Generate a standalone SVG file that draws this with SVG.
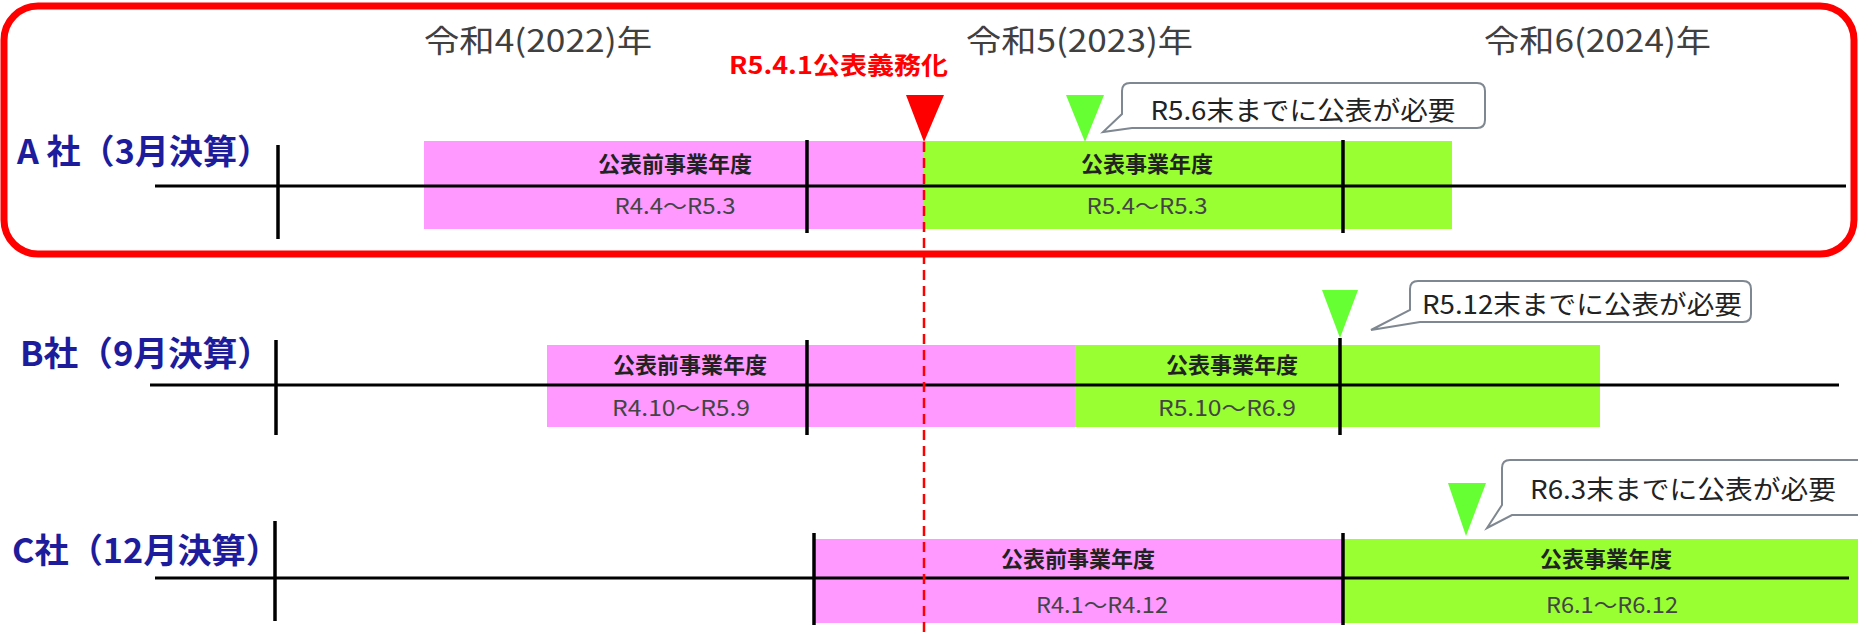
<svg xmlns="http://www.w3.org/2000/svg" width="1858" height="632" viewBox="0 0 1858 632">
<style>
.yr{font-family:"Noto Sans CJK JP","Liberation Sans",sans-serif;font-size:31px;fill:#404040}
.co{font-family:"Noto Sans CJK JP","Liberation Sans",sans-serif;font-size:34px;font-weight:bold;fill:#1c1c9c}
.bt{font-family:"Noto Sans CJK JP","Liberation Sans",sans-serif;font-size:22px;font-weight:bold;fill:#222}
.br{font-family:"Noto Sans CJK JP","Liberation Sans",sans-serif;font-size:22px;fill:#444}
.ct{font-family:"Noto Sans CJK JP","Liberation Sans",sans-serif;font-size:26px;fill:#222}
.pk{fill:#ff99ff}
.gr{fill:#99ff33}
.ax{stroke:#000;stroke-width:3;fill:none}
.tk{stroke:#000;stroke-width:3.5;fill:none}
.call{fill:#fff;stroke:#7f8790;stroke-width:2}
.gtri{fill:#66ff33}
</style>
<rect x="4" y="6" width="1850" height="248" rx="34" fill="none" stroke="#ff0000" stroke-width="7"/>
<g id="years">
<text class="yr" x="424" y="38" dominant-baseline="central" textLength="228" lengthAdjust="spacingAndGlyphs">令和4(2022)年</text>
<text class="yr" x="966" y="38" dominant-baseline="central" textLength="227" lengthAdjust="spacingAndGlyphs">令和5(2023)年</text>
<text class="yr" x="1484" y="38" dominant-baseline="central" textLength="227" lengthAdjust="spacingAndGlyphs">令和6(2024)年</text>
</g>
<g id="rowA">
<rect class="pk" x="424" y="141" width="500" height="88"/>
<rect class="gr" x="924" y="141" width="528" height="88"/>
<line class="ax" x1="155" y1="186" x2="1846" y2="186"/>
<line class="tk" x1="278" y1="145" x2="278" y2="239"/>
<line class="tk" x1="807" y1="140" x2="807" y2="233"/>
<line class="tk" x1="1343" y1="140" x2="1343" y2="233"/>
<text class="co" x="17" y="149" dominant-baseline="central" textLength="254" lengthAdjust="spacingAndGlyphs">A 社（3月決算）</text>
<text class="bt" x="675" y="162" text-anchor="middle" dominant-baseline="central">公表前事業年度</text>
<text class="br" x="675" y="204" text-anchor="middle" dominant-baseline="central" textLength="121" lengthAdjust="spacingAndGlyphs">R4.4～R5.3</text>
<text class="bt" x="1147" y="162" text-anchor="middle" dominant-baseline="central">公表事業年度</text>
<text class="br" x="1147" y="204" text-anchor="middle" dominant-baseline="central" textLength="121" lengthAdjust="spacingAndGlyphs">R5.4～R5.3</text>
</g>
<g id="rowB">
<rect class="pk" x="547" y="345" width="528" height="82"/>
<rect class="gr" x="1075" y="345" width="525" height="82"/>
<line class="ax" x1="150" y1="385" x2="1839" y2="385"/>
<line class="tk" x1="276" y1="340" x2="276" y2="435"/>
<line class="tk" x1="807" y1="340" x2="807" y2="435"/>
<line class="tk" x1="1340" y1="338" x2="1340" y2="435"/>
<text class="co" x="20" y="351" dominant-baseline="central" textLength="252" lengthAdjust="spacingAndGlyphs">B社（9月決算）</text>
<text class="bt" x="690" y="363" text-anchor="middle" dominant-baseline="central">公表前事業年度</text>
<text class="br" x="681" y="406" text-anchor="middle" dominant-baseline="central" textLength="138" lengthAdjust="spacingAndGlyphs">R4.10～R5.9</text>
<text class="bt" x="1232" y="363" text-anchor="middle" dominant-baseline="central">公表事業年度</text>
<text class="br" x="1227" y="406" text-anchor="middle" dominant-baseline="central" textLength="138" lengthAdjust="spacingAndGlyphs">R5.10～R6.9</text>
</g>
<g id="rowC">
<rect class="pk" x="815" y="539" width="528" height="84"/>
<rect class="gr" x="1343" y="539" width="515" height="84"/>
<line class="ax" x1="155" y1="578" x2="1849" y2="578"/>
<line class="tk" x1="275" y1="521" x2="275" y2="621"/>
<line class="tk" x1="814" y1="533" x2="814" y2="625"/>
<line class="tk" x1="1343" y1="533" x2="1343" y2="625"/>
<text class="co" x="12" y="548" dominant-baseline="central" textLength="268" lengthAdjust="spacingAndGlyphs">C社（12月決算）</text>
<text class="bt" x="1078" y="557" text-anchor="middle" dominant-baseline="central">公表前事業年度</text>
<text class="br" x="1102" y="603" text-anchor="middle" dominant-baseline="central" textLength="132" lengthAdjust="spacingAndGlyphs">R4.1～R4.12</text>
<text class="bt" x="1606" y="557" text-anchor="middle" dominant-baseline="central">公表事業年度</text>
<text class="br" x="1612" y="603" text-anchor="middle" dominant-baseline="central" textLength="132" lengthAdjust="spacingAndGlyphs">R6.1～R6.12</text>
</g>
<g id="mandate">
<line x1="924" y1="142" x2="924" y2="632" stroke="#ff0000" stroke-width="2.5" stroke-dasharray="10 6"/>
<polygon points="906,95 944,95 924,142" fill="#ff0000"/>
<text x="729" y="63" dominant-baseline="central" font-family="'Noto Sans CJK JP','Liberation Sans',sans-serif" font-size="24" font-weight="bold" fill="#ff0000" textLength="219" lengthAdjust="spacingAndGlyphs">R5.4.1公表義務化</text>
</g>
<g id="calloutA">
<polygon class="gtri" points="1066,95 1104,95 1085,142"/>
<path class="call" d="M1130,83 H1477 Q1485,83 1485,91 V120 Q1485,128 1477,128 H1132 L1103,132 L1122,114 V91 Q1122,83 1130,83 Z"/>
<text class="ct" x="1303" y="108" text-anchor="middle" dominant-baseline="central" textLength="305" lengthAdjust="spacingAndGlyphs">R5.6末までに公表が必要</text>
</g>
<g id="calloutB">
<polygon class="gtri" points="1322,290 1358,290 1340,338"/>
<path class="call" d="M1418,281 H1743 Q1751,281 1751,289 V314 Q1751,322 1743,322 H1420 L1371,330 L1410,310 V289 Q1410,281 1418,281 Z"/>
<text class="ct" x="1582" y="302" text-anchor="middle" dominant-baseline="central" textLength="320" lengthAdjust="spacingAndGlyphs">R5.12末までに公表が必要</text>
</g>
<g id="calloutC">
<polygon class="gtri" points="1448,483 1486,483 1466,536"/>
<path class="call" d="M1510,460 H1870 V515 H1512 L1487,528 L1502,505 V468 Q1502,460 1510,460 Z"/>
<text class="ct" x="1683" y="487" text-anchor="middle" dominant-baseline="central" textLength="306" lengthAdjust="spacingAndGlyphs">R6.3末までに公表が必要</text>
</g>
</svg>
